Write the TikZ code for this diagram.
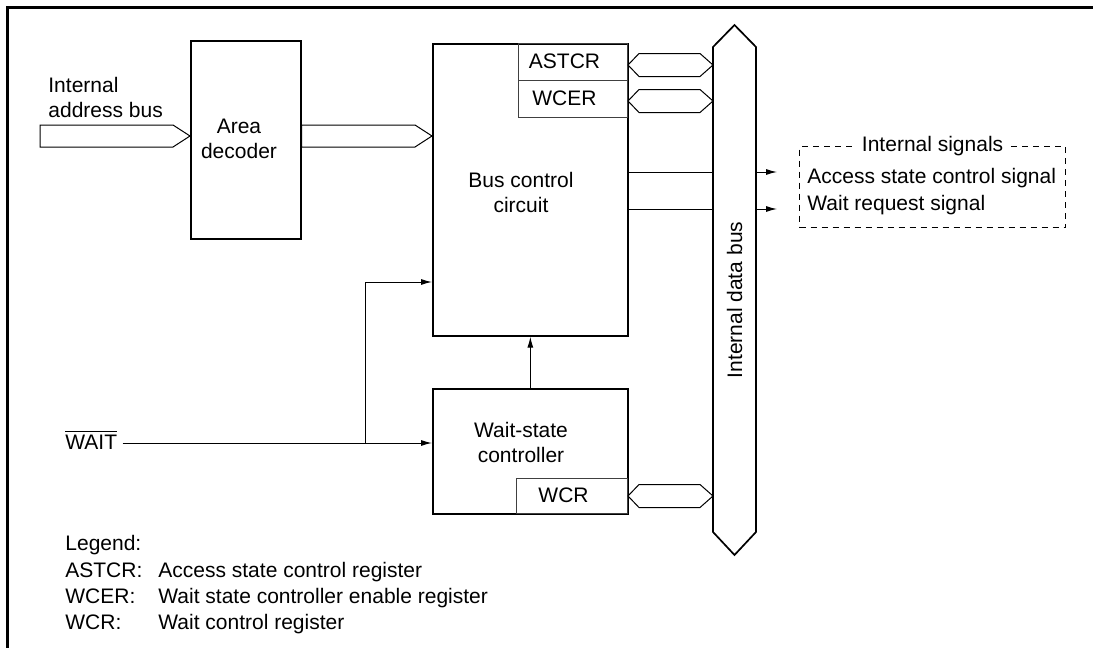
\documentclass[tikz,border=0pt]{standalone}
\usepackage{fontspec}
\setmainfont{Liberation Sans}
\usetikzlibrary{arrows.meta,positioning,calc}
\newcommand{\sigfont}{\fontsize{10.5}{12.5}\selectfont}
\tikzset{
  blk/.style={draw, line width=0.85pt, inner sep=0pt, anchor=north west},
  reg/.style={draw=black!75, line width=0.5pt, inner sep=0pt, anchor=north west},
  txt/.style={font=\sigfont, align=center, inner sep=0pt},
  lbl/.style={font=\sigfont, anchor=base west, inner sep=0pt},
  bus/.style={draw, line width=0.5pt},
  thinline/.style={line width=0.5pt},
  sig/.style={line width=0.5pt, -{Latex[length=5.5pt,width=3pt]}},
  dashbox/.style={draw, line width=0.6pt, dash pattern=on 3pt off 2.5pt, inner sep=0pt, anchor=north west},
}
% hollow bus arrows
\newcommand{\sbus}[2]{\draw[bus] ($(#1)+(0,-11)$) -- ($(#2)+(-17,-11)$) -- (#2) -- ($(#2)+(-17,11)$) -- ($(#1)+(0,11)$) -- cycle;}
\newcommand{\dbus}[2]{\draw[bus] (#1) -- ($(#1)+(11,-11.5)$) -- ($(#2)+(-13,-11.5)$) -- (#2) -- ($(#2)+(-13,11.5)$) -- ($(#1)+(11,11.5)$) -- cycle;}
\begin{document}
\begin{tikzpicture}[x=0.5pt, y=-0.5pt]
  \useasboundingbox (0,0) rectangle (1093,648);
  \draw[line width=1.1pt] (7.5,648) -- (7.5,7.5) -- (1093,7.5);

  % blocks
  \node[blk, minimum width=55pt, minimum height=99pt] (dec) at (190,40) {};
  \node[txt] (dect) at (239,139) {Area\\decoder};
  \node[blk, minimum width=97.5pt, minimum height=146pt] (bcc) at (432,43) {};
  \node[txt] (bcct) at (521,192) {Bus control\\circuit};
  \node[reg, minimum width=54.5pt, minimum height=18.5pt] (astcr) at (518,43) {};
  \node[txt] (astcrt) at (564.5,61.5) {ASTCR};
  \node[reg, minimum width=54.5pt, minimum height=18.5pt] (wcer) at (518,80) {};
  \node[txt] (wcert) at (564.5,98.5) {WCER};
  \node[blk, minimum width=97.5pt, minimum height=62.5pt] (wsc) at (432,388) {};
  \node[txt] (wsct) at (521,442) {Wait-state\\controller};
  \node[reg, minimum width=55.5pt, minimum height=17.5pt] (wcr) at (516,478) {};
  \node[txt] (wcrt) at (563.5,495.5) {WCR};

  % internal address bus
  \node[lbl] (aib1) at (48,92) {Internal};
  \node[lbl] (aib2) at (48,117) {address bus};
  \coordinate (ain) at (40,136);
  \coordinate (decin) at (dec.west |- ain);
  \coordinate (decout) at (dec.east |- ain);
  \coordinate (bccin) at (bcc.west |- ain);
  \sbus{ain}{decin}
  \sbus{decout}{bccin}

  % internal data bus
  \coordinate (dbl) at (713,300);
  \coordinate (dbr) at (756,300);
  \draw[line width=0.85pt] (734.5,25) -- (756,47) -- (756,532) -- (734.5,555) -- (713,532) -- (713,47) -- cycle;
  \node[txt, rotate=90] (dbt) at (734.5,300) {Internal data bus};
  \coordinate (ra) at ($(astcr.east)+(0,3)$);
  \coordinate (rab) at (dbl |- ra);
  \dbus{ra}{rab}
  \coordinate (rw) at ($(wcer.east)+(0,2)$);
  \coordinate (rwb) at (dbl |- rw);
  \dbus{rw}{rwb}
  \coordinate (rc) at (wcr.east);
  \coordinate (rcb) at (dbl |- rc);
  \dbus{rc}{rcb}

  % internal signals
  \coordinate (s1) at (777,172);
  \coordinate (s2) at (777,209);
  \foreach \s in {s1,s2}{
    \draw[thinline] (bcc.east |- \s) -- (dbl |- \s);
    \draw[sig] (dbr |- \s) -- (\s);
  }
  \node[dashbox, minimum width=133pt, minimum height=40.5pt] (isig) at (799,146) {};
  \node[txt, fill=white, inner xsep=3pt] (isigt) at (isig.north) {Internal signals};
  \node[lbl] (acs) at (807,183) {Access state control signal};
  \node[lbl] (wrs) at (807,210) {Wait request signal};

  % WAIT input
  \node[lbl] (wait) at (65,449) {$\overline{\mbox{WAIT}}$};
  \coordinate (wj) at (365,443);
  \coordinate (wup) at (365,282);
  \draw[thinline] ($(wait.east |- wj)+(5,0)$) -- (wj);
  \draw[sig] (wj) -- (wsc.west |- wj);
  \draw[sig] (wj) -- (wup) -- (bcc.west |- wup);
  \draw[sig] (wsc.north) -- (bcc.south);

  % legend
  \node[lbl] (leg) at (65,550) {Legend:};
  \node[lbl] (lga) at (65,577) {ASTCR:};
  \node[lbl] (lgad) at (158,577) {Access state control register};
  \node[lbl] (lgw) at (65,603) {WCER:};
  \node[lbl] (lgwd) at (158,603) {Wait state controller enable register};
  \node[lbl] (lgc) at (65,629) {WCR:};
  \node[lbl] (lgcd) at (158,629) {Wait control register};
\end{tikzpicture}
\end{document}
